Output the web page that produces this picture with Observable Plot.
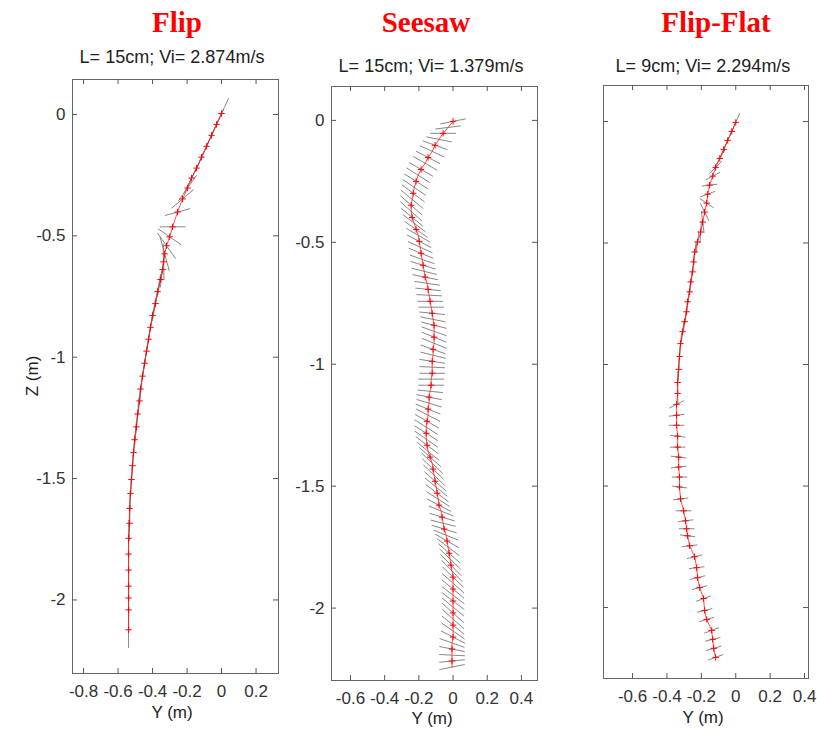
<!DOCTYPE html>
<html><head><meta charset="utf-8">
<script src="https://cdn.jsdelivr.net/npm/d3@7"></script>
<script src="https://cdn.jsdelivr.net/npm/@observablehq/plot@0.6"></script>
<style>
html,body{margin:0;padding:0;background:#fff;}
#wrap{position:relative;width:817px;height:732px;overflow:hidden;background:#fff;}
#wrap svg{position:absolute;top:0;}
</style></head>
<body><div id="wrap"></div>
<script>
// ---------- data ----------
const titles = ["Flip", "Seesaw", "Flip-Flat"];
const subtitles = ["L= 15cm; Vi= 2.874m/s", "L= 15cm; Vi= 1.379m/s", "L= 9cm; Vi= 2.294m/s"];
const lengths = [0.15, 0.15, 0.09];
const xLabel = "Y (m)";
const zLabel = "Z (m)";
const xTicksFlip = [-0.8, -0.6, -0.4, -0.2, 0, 0.2];
const xTicksOther = [-0.6, -0.4, -0.2, 0, 0.2, 0.4];
const zTicks = [0, -0.5, -1, -1.5, -2];

// Flip: centre Y, centre Z, blade angle (deg)
const flipY = [0.000,-0.029,-0.058,-0.087,-0.116,-0.145,-0.174,-0.197,-0.226,-0.255,
  -0.284,-0.301,-0.319,-0.330,-0.336,-0.342,-0.354,-0.371,-0.383,-0.400,
  -0.412,-0.423,-0.435,-0.446,-0.458,-0.470,-0.475,-0.487,-0.493,-0.504,
  -0.510,-0.516,-0.522,-0.528,-0.533,-0.533,-0.539,-0.539,-0.539,-0.539,
  -0.539,-0.539,-0.539];
const flipZ = [0.004,-0.041,-0.086,-0.131,-0.176,-0.221,-0.262,-0.303,-0.348,-0.402,
  -0.463,-0.504,-0.541,-0.574,-0.607,-0.639,-0.680,-0.730,-0.779,-0.828,
  -0.877,-0.926,-0.975,-1.025,-1.078,-1.131,-1.180,-1.234,-1.287,-1.340,
  -1.393,-1.447,-1.504,-1.561,-1.623,-1.684,-1.746,-1.811,-1.877,-1.943,
  -1.992,-2.041,-2.123];
const flipAngle = [57,57,58,58,58,57,55,45,31,11,
  0,-26,-45,-69,-88,-100,-104,-104,-104,-104,
  -103,-103,-102,-102,-101,-101,-100,-99,-98,-98,
  -97,-96,-95,-94,-93,-92,-91,-90,-90,-90,
  -90,-90,-90];

// Seesaw
const seesawY = [0.000,-0.029,-0.058,-0.082,-0.105,-0.122,-0.146,-0.163,-0.187,-0.204,
  -0.216,-0.227,-0.233,-0.239,-0.245,-0.245,-0.239,-0.227,-0.216,-0.204,
  -0.198,-0.192,-0.187,-0.181,-0.175,-0.169,-0.163,-0.152,-0.146,-0.140,
  -0.134,-0.128,-0.122,-0.117,-0.111,-0.111,-0.111,-0.111,-0.117,-0.117,
  -0.122,-0.122,-0.122,-0.128,-0.128,-0.134,-0.140,-0.140,-0.146,-0.146,
  -0.152,-0.157,-0.157,-0.157,-0.152,-0.146,-0.134,-0.122,-0.117,-0.111,
  -0.105,-0.099,-0.093,-0.087,-0.082,-0.070,-0.064,-0.058,-0.052,-0.041,
  -0.035,-0.029,-0.023,-0.017,-0.012,-0.006,0.000,0.000,0.000,0.000,
  0.000,0.000,0.000,0.000,0.000,0.000,0.000,-0.006,-0.006,-0.006,
  -0.006,-0.006];
const seesawZ = [-0.004,-0.029,-0.053,-0.078,-0.102,-0.127,-0.152,-0.176,-0.201,-0.225,
  -0.250,-0.275,-0.299,-0.324,-0.348,-0.373,-0.398,-0.422,-0.447,-0.471,
  -0.496,-0.520,-0.545,-0.570,-0.594,-0.619,-0.643,-0.668,-0.693,-0.717,
  -0.742,-0.766,-0.791,-0.816,-0.840,-0.865,-0.889,-0.914,-0.939,-0.963,
  -0.988,-1.012,-1.037,-1.061,-1.086,-1.111,-1.135,-1.160,-1.184,-1.209,
  -1.234,-1.258,-1.283,-1.307,-1.332,-1.357,-1.381,-1.406,-1.430,-1.455,
  -1.480,-1.504,-1.529,-1.553,-1.578,-1.602,-1.627,-1.652,-1.676,-1.701,
  -1.725,-1.750,-1.775,-1.799,-1.824,-1.848,-1.873,-1.898,-1.922,-1.947,
  -1.971,-1.996,-2.020,-2.045,-2.070,-2.094,-2.119,-2.143,-2.168,-2.193,
  -2.217,-2.242];
const seesawAngle = [8,5,0,-8,-14,-18,-20,-22,-22,-24,
  -24,-26,-28,-30,-32,-32,-30,-28,-26,-22,
  -20,-18,-16,-14,-12,-10,-8,-6,-4,-2,
  0,0,-4,-8,-10,-14,-16,-16,-14,-10,
  -6,-2,0,0,0,-4,-8,-12,-16,-20,
  -22,-24,-24,-26,-28,-30,-32,-34,-34,-34,
  -32,-30,-28,-24,-20,-16,-12,-10,-12,-16,
  -22,-28,-32,-34,-36,-36,-34,-32,-30,-28,
  -28,-30,-32,-32,-30,-26,-20,-14,-8,-2,
  4,8];

// Flip-Flat
const flatY = [0.000,-0.023,-0.047,-0.070,-0.093,-0.117,-0.134,-0.152,-0.163,-0.169,
  -0.181,-0.192,-0.204,-0.222,-0.239,-0.245,-0.251,-0.262,-0.268,-0.280,
  -0.286,-0.297,-0.309,-0.321,-0.327,-0.332,-0.338,-0.338,-0.344,-0.344,
  -0.344,-0.338,-0.338,-0.332,-0.332,-0.327,-0.327,-0.321,-0.303,-0.292,
  -0.286,-0.280,-0.268,-0.239,-0.227,-0.222,-0.210,-0.187,-0.181,-0.169,
  -0.140,-0.134,-0.128,-0.117];
const flatZ = [-0.004,-0.041,-0.078,-0.115,-0.152,-0.189,-0.225,-0.262,-0.299,-0.336,
  -0.373,-0.414,-0.455,-0.496,-0.537,-0.578,-0.619,-0.660,-0.701,-0.742,
  -0.783,-0.824,-0.865,-0.914,-0.967,-1.020,-1.074,-1.119,-1.164,-1.209,
  -1.250,-1.295,-1.340,-1.381,-1.422,-1.463,-1.504,-1.553,-1.602,-1.643,
  -1.676,-1.705,-1.746,-1.791,-1.836,-1.877,-1.918,-1.963,-2.012,-2.049,
  -2.094,-2.131,-2.168,-2.205];
const flatAngle = [58,58,58,57,50,35,20,5,15,-25,
  -55,-80,-95,-100,-102,-102,-102,-102,-102,-102,
  -102,-101,-100,-98,-95,-92,-90,-88,20,5,
  0,-5,0,-5,5,0,-5,5,0,5,
  0,-5,5,10,5,10,10,15,10,12,
  15,10,12,15];

// ---------- layout ----------
const W = 817, H = 732;
const panels = [
  {Y: flipY, Z: flipZ, A: flipAngle, L: lengths[0], xTicks: xTicksFlip, yLabels: true, markEvery: 1,
   left: 0, width: 290, mL: 72, mR: 12, mT: 79, mB: 59, xDomain: [-0.864, 0.33], zDomain: [-2.303, 0.144]},
  {Y: seesawY, Z: seesawZ, A: seesawAngle, L: lengths[1], xTicks: xTicksOther, yLabels: true, markEvery: 2,
   left: 290, width: 255, mL: 41, mR: 8, mT: 86, mB: 52, xDomain: [-0.711, 0.494], zDomain: [-2.297, 0.139]},
  {Y: flatY, Z: flatZ, A: flatAngle, L: lengths[2], xTicks: xTicksOther, yLabels: false, markEvery: 1,
   left: 560, width: 257, mL: 43, mR: 9, mT: 85, mB: 54, xDomain: [-0.769, 0.423], zDomain: [-2.292, 0.148]}
];

const wrap = document.getElementById("wrap");
const fmt = d => String(d);
const font = "'Liberation Sans', Arial, Helvetica, sans-serif";

panels.forEach(p => {
  const rows = p.Y.map((y, i) => ({x: y, z: p.Z[i], a: p.A[i], i}));
  const segs = rows.map(d => {
    const r = d.a * Math.PI / 180, h = p.L / 2;
    return {x1: d.x - h * Math.cos(r), z1: d.z - h * Math.sin(r), x2: d.x + h * Math.cos(r), z2: d.z + h * Math.sin(r)};
  });
  const fh = H - p.mT - p.mB, fw = p.width - p.mL - p.mR;
  const tick = {stroke: "#555", strokeWidth: 1};
  const svg = Plot.plot({
    width: p.width, height: H,
    marginLeft: p.mL, marginRight: p.mR, marginTop: p.mT, marginBottom: p.mB,
    x: {domain: p.xDomain, axis: null},
    y: {domain: p.zDomain, axis: null},
    style: {background: "transparent", overflow: "visible", fontFamily: font, fontSize: "17px", color: "#333"},
    marks: [
      Plot.link(segs, {x1: "x1", y1: "z1", x2: "x2", y2: "z2", stroke: "#7a7a7a", strokeWidth: 1, strokeOpacity: 0.9}),
      Plot.line(rows, {x: "x", y: "z", stroke: "#ff2020", strokeWidth: 0.8}),
      Plot.dot(rows.filter(d => d.i % p.markEvery === 0), {x: "x", y: "z", symbol: "plus", r: 2.2, stroke: "#ff0000", strokeWidth: 1}),
      Plot.frame({stroke: "#666", strokeWidth: 1}),
      Plot.ruleX(p.xTicks, {x: d => d, insetBottom: fh - 5, ...tick}),
      Plot.ruleX(p.xTicks, {x: d => d, insetTop: fh - 5, ...tick}),
      Plot.ruleY(zTicks, {y: d => d, insetRight: fw - 5, ...tick}),
      Plot.ruleY(zTicks, {y: d => d, insetLeft: fw - 5, ...tick}),
      Plot.axisX(p.xTicks, {anchor: "bottom", tickSize: 0, tickPadding: 11, tickFormat: fmt, label: null, fontSize: 17, fill: "#333"}),
      p.yLabels ? Plot.axisY(zTicks, {anchor: "left", tickSize: 0, tickPadding: 7, tickFormat: fmt, label: null, fontSize: 17, fill: "#333"}) : null
    ]
  });
  svg.style.left = p.left + "px";
  wrap.appendChild(svg);
});

// ---------- titles and axis labels ----------
const titlePos = [[177, 32], [426, 32], [716, 32]];
const subPos = [[172, 63], [431, 72], [703, 72]];
const xLabelPos = [[172, 718], [432, 724], [703, 723]];
const ov = d3.create("svg").attr("width", W).attr("height", H).style("left", "0px").style("overflow", "visible");
ov.selectAll("text.title").data(titles).join("text")
  .attr("x", (d, i) => titlePos[i][0]).attr("y", (d, i) => titlePos[i][1])
  .attr("text-anchor", "middle").attr("fill", "#ff0000")
  .attr("font-family", "'Liberation Serif', 'Times New Roman', serif").attr("font-size", 29).attr("font-weight", "bold")
  .text(d => d);
ov.selectAll("text.sub").data(subtitles).join("text")
  .attr("x", (d, i) => subPos[i][0]).attr("y", (d, i) => subPos[i][1])
  .attr("text-anchor", "middle").attr("fill", "#222")
  .attr("font-family", font).attr("font-size", 18)
  .text(d => d);
ov.selectAll("text.xl").data(xLabelPos).join("text")
  .attr("x", d => d[0]).attr("y", d => d[1])
  .attr("text-anchor", "middle").attr("fill", "#222")
  .attr("font-family", font).attr("font-size", 17)
  .text(xLabel);
ov.append("text").attr("transform", "translate(38,376) rotate(-90)")
  .attr("text-anchor", "middle").attr("fill", "#222")
  .attr("font-family", font).attr("font-size", 17)
  .text(zLabel);
wrap.appendChild(ov.node());
</script>
</body></html>
